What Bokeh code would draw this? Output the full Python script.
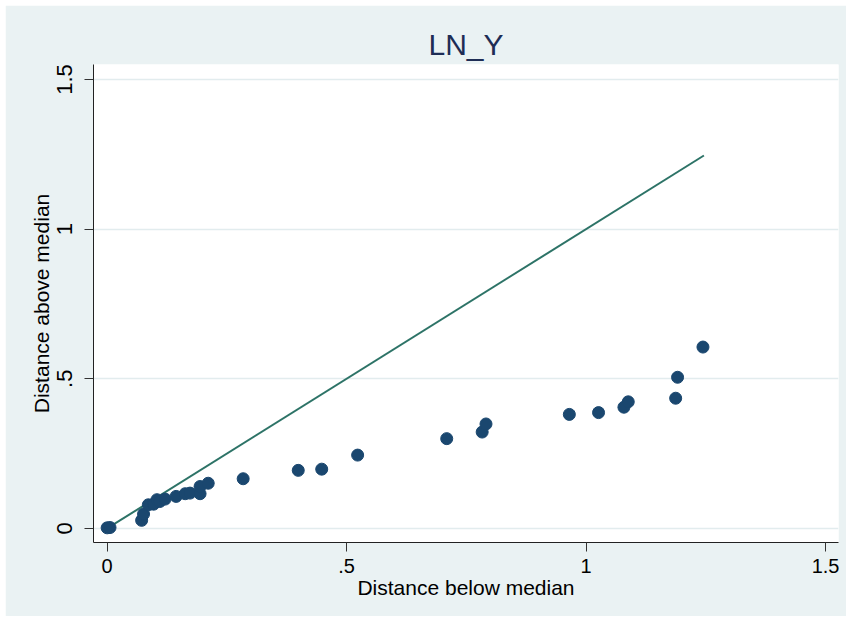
from bokeh.plotting import figure
from bokeh.models import Range1d, FixedTicker, CustomJSTickFormatter
from bokeh.embed import file_html
from bokeh.resources import INLINE

# Data
below = [0.000, 0.006, 0.072, 0.076, 0.086, 0.097, 0.104, 0.110, 0.121, 0.144,
         0.163, 0.173, 0.194, 0.194, 0.211, 0.284, 0.399, 0.448, 0.523, 0.709,
         0.783, 0.791, 0.965, 1.026, 1.079, 1.088, 1.187, 1.191, 1.244]
above = [0.002, 0.003, 0.027, 0.048, 0.079, 0.081, 0.096, 0.090, 0.098, 0.107,
         0.116, 0.118, 0.116, 0.140, 0.151, 0.166, 0.194, 0.198, 0.245, 0.300,
         0.322, 0.349, 0.381, 0.387, 0.405, 0.423, 0.435, 0.505, 0.606]
diag = [0.0, 1.246]
ticks = [0, 0.5, 1, 1.5]

BG = "#eaf2f3"
FONT = "Liberation Sans"

p = figure(width=841, height=611, output_backend="svg", toolbar_location=None,
           x_range=Range1d(-0.0285, 1.527), y_range=Range1d(-0.047, 1.55),
           min_border_left=88, min_border_right=8, min_border_top=59, min_border_bottom=74,
           background_fill_color="white", border_fill_color=BG, outline_line_color=None,
           title="LN_Y")
p.margin = (5, 5, 5, 5)

p.title.align = "center"
p.title.text_font = FONT
p.title.text_font_size = "30px"
p.title.text_font_style = "normal"
p.title.text_color = "#1e2d55"
p.title.standoff = 8

p.line(diag, diag, line_color="#2d7367", line_width=2)
p.scatter(below, above, size=12, fill_color="#1a476f", line_color="#1a476f")

fmt = CustomJSTickFormatter(code="""
var s = String(tick);
if (s.startsWith('0.')) { s = s.substring(1); }
return s;
""")

for ax in (p.xaxis[0], p.yaxis[0]):
    ax.ticker = FixedTicker(ticks=ticks)
    ax.formatter = fmt
    ax.minor_tick_line_color = None
    ax.major_tick_in = 0
    ax.major_tick_out = 9
    ax.major_tick_line_color = "#333333"
    ax.axis_line_color = "#222222"
    ax.axis_line_width = 1
    ax.major_label_text_font = FONT
    ax.major_label_text_color = "black"
    ax.axis_label_text_font = FONT
    ax.axis_label_text_font_style = "normal"
    ax.axis_label_text_font_size = "21px"
    ax.axis_label_text_color = "black"

p.xaxis.axis_label = "Distance below median"
p.xaxis.major_label_text_font_size = "20px"
p.xaxis.major_label_standoff = 7
p.xaxis.axis_label_standoff = 0

p.yaxis.axis_label = "Distance above median"
p.yaxis.major_label_text_font_size = "22px"
p.yaxis.major_label_orientation = "vertical"
p.yaxis.major_label_standoff = 12
p.yaxis.axis_label_standoff = 2

p.xgrid.grid_line_color = None
p.ygrid.ticker = FixedTicker(ticks=ticks)
p.ygrid.grid_line_color = "#e2ecee"
p.ygrid.grid_line_width = 1.5

open("out.html", "w").write(file_html(p, INLINE))
